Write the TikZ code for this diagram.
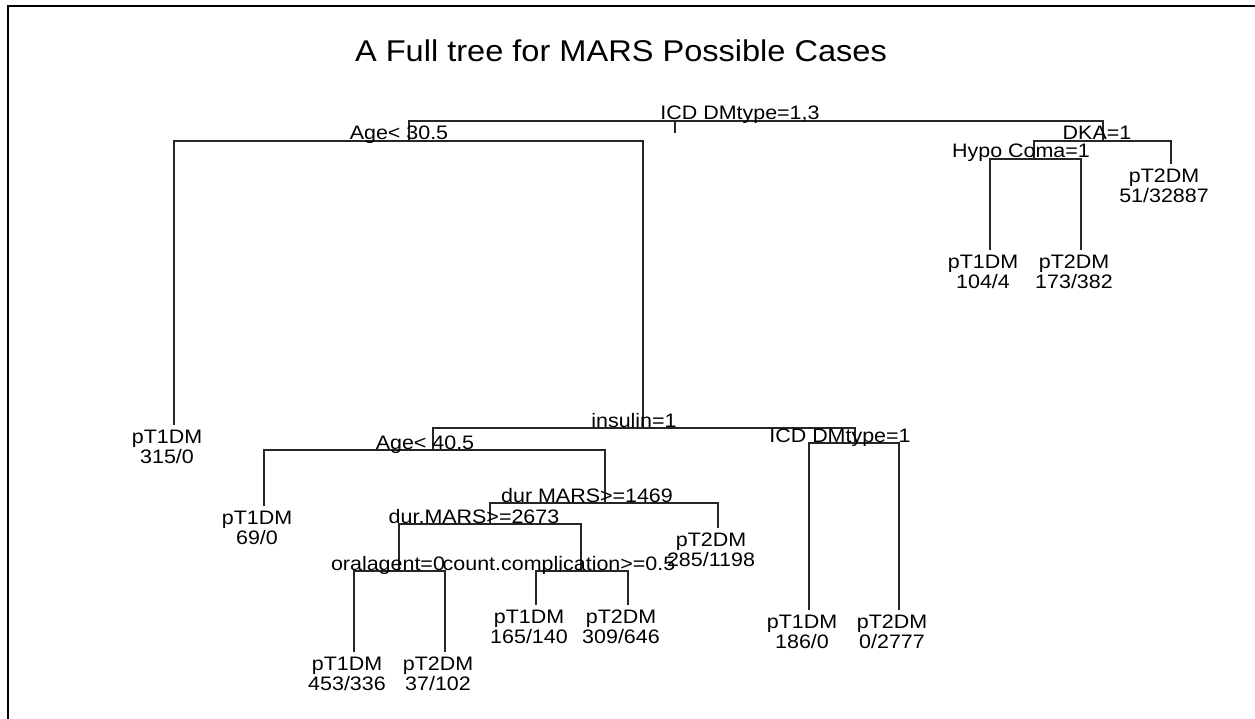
\documentclass[tikz,border=0pt]{standalone}
\usepackage{fontspec}
\setmainfont{Liberation Sans}

\begin{document}
\begin{tikzpicture}[x=1pt,y=-1pt,
   treeline/.style={line width=1.2pt,black!85},
   lab/.style={anchor=base,inner sep=0pt,xscale=1.1,font=\fontsize{19.5}{19}\selectfont},
   leaf/.style={anchor=north,inner sep=0pt,align=center,xshift=-7pt,yshift=-5pt,
                xscale=1.1,font=\fontsize{19.5}{19.5}\selectfont}]
   \useasboundingbox (0,0) rectangle (1255,719);
   % frame
   \draw[line width=2pt] (1255,6) -- (8,6) -- (8,719);
   \node[anchor=base,inner sep=0pt,xscale=1.085,font=\fontsize{30}{32}\selectfont]
      (title) at (621,62) {A Full tree for MARS Possible Cases};

   % split points
   \coordinate (root) at (675,121);
   \coordinate (stem) at (675,133);
   \coordinate (agea) at (409,141);
   \coordinate (dka)  at (1103,141);
   \coordinate (hypo) at (1034,159);
   \coordinate (insl) at (643,428);
   \coordinate (ageb) at (433,450);
   \coordinate (icdb) at (855,443);
   \coordinate (dura) at (605,503);
   \coordinate (durb) at (490,524);
   \coordinate (oral) at (399,571);
   \coordinate (comp) at (581,571);
   % leaves
   \coordinate (t1a) at (174,425);
   \coordinate (t1b) at (264,506);
   \coordinate (t2c) at (718,528);
   \coordinate (t1d) at (354,652);
   \coordinate (t2d) at (445,652);
   \coordinate (t1e) at (536,605);
   \coordinate (t2e) at (628,605);
   \coordinate (t1f) at (809,610);
   \coordinate (t2f) at (899,610);
   \coordinate (t1g) at (990,250);
   \coordinate (t2g) at (1081,250);
   \coordinate (t2h) at (1171,164);

   % branches
   \draw[treeline] (root) -- (stem);
   \foreach \l/\p/\r in {agea/root/dka, t1a/agea/insl, hypo/dka/t2h, t1g/hypo/t2g,
                         ageb/insl/icdb, t1b/ageb/dura, durb/dura/t2c, oral/durb/comp,
                         t1d/oral/t2d, t1e/comp/t2e, t1f/icdb/t2f}
      \draw[treeline] (\l) |- (\p) -| (\r);

   % split labels
   \node[lab] (lroot) at (740,120) {ICD DMtype=1,3};
   \node[lab] (lagea) at (399,140) {Age< 30.5};
   \node[lab] (ldka)  at (1097,140) {DKA=1};
   \node[lab] (lhypo) at (1021,158) {Hypo Coma=1};
   \node[lab] (linsl) at (634,427) {insulin=1};
   \node[lab] (lageb) at (425,449) {Age< 40.5};
   \node[lab] (licdb) at (840,442) {ICD DMtype=1};
   \node[lab] (ldura) at (587,502) {dur MARS>=1469};
   \node[lab] (ldurb) at (474,523) {dur.MARS>=2673};
   \node[lab] (loral) at (388,570) {oralagent=0};
   \node[lab] (lcomp) at (559,570) {count.complication>=0.5};

   % leaf labels
   \foreach \n/\c/\v in {t1a/pT1DM/{315/0}, t1b/pT1DM/{69/0}, t2c/pT2DM/{285/1198},
                         t1d/pT1DM/{453/336}, t2d/pT2DM/{37/102}, t1e/pT1DM/{165/140},
                         t2e/pT2DM/{309/646}, t1f/pT1DM/{186/0}, t2f/pT2DM/{0/2777},
                         t1g/pT1DM/{104/4}, t2g/pT2DM/{173/382}, t2h/pT2DM/{51/32887}}
      \node[leaf] (n\n) at (\n) {\c\\\v};
\end{tikzpicture}
\end{document}
